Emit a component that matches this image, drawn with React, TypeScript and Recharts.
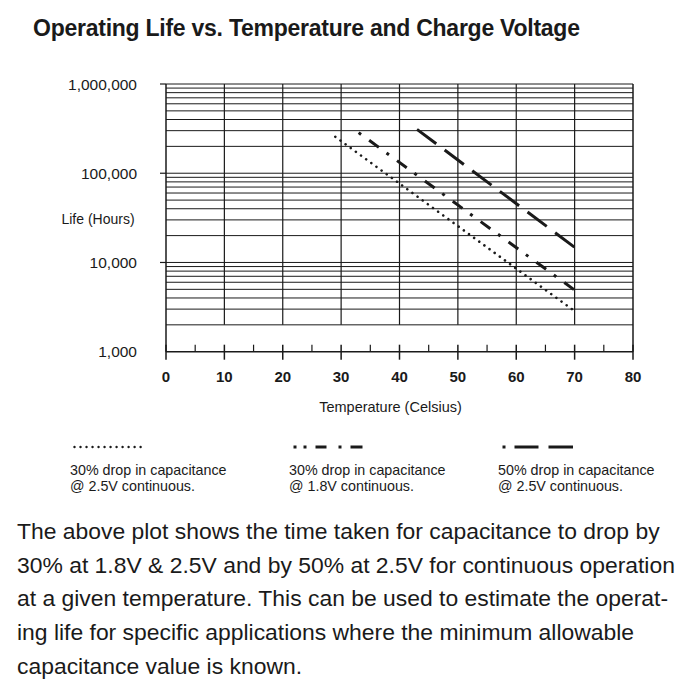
import React from "react";
import {
  LineChart,
  Line,
  XAxis,
  YAxis,
  ReferenceLine,
  Label,
} from "recharts";

// temperature (Celsius) vs operating life (hours)
const drop30at25V = [
  { temp: 29, life: 256000 },
  { temp: 70, life: 2850 },
];
const drop30at18V = [
  { temp: 33, life: 285000 },
  { temp: 70, life: 4900 },
];
const drop50at25V = [
  { temp: 43, life: 310000 },
  { temp: 70, life: 14800 },
];

const tempTicks = [0, 5, 10, 15, 20, 25, 30, 35, 40, 45, 50, 55, 60, 65, 70, 75, 80];
const tempGrid = [10, 20, 30, 40, 50, 60, 70];
const lifeTicks = [1000, 10000, 100000, 1000000];
const lifeGrid = [
  2000, 3000, 4000, 5000, 6000, 7000, 8000, 9000,
  10000, 20000, 30000, 40000, 50000, 60000, 70000, 80000, 90000,
  100000, 200000, 300000, 400000, 500000, 600000, 700000, 800000, 900000,
  1000000,
];

const legendItems = [
  { name: "30% drop in capacitance", sub: "@ 2.5V continuous.", left: 70, dash: "0.01 6", width: 2.4, cap: "round" },
  { name: "30% drop in capacitance", sub: "@ 1.8V continuous.", left: 289, dash: "3 7 3 9 11 12 3 9 12", width: 3, cap: "butt" },
  { name: "50% drop in capacitance", sub: "@ 2.5V continuous.", left: 498, dash: "3 9 24 10 25", width: 3, cap: "butt" },
];

const paragraph = [
  "The above plot shows the time taken for capacitance to drop by",
  "30% at 1.8V & 2.5V and by 50% at 2.5V for continuous operation",
  "at a given temperature. This can be used to estimate the operat-",
  "ing life for specific applications where the minimum allowable",
  "capacitance value is known.",
];

const FONT = "'Liberation Sans', Arial, Helvetica, sans-serif";
const INK = "#1a1a1a";

const TempTick = (props: any) => {
  const { x, y, payload } = props;
  const major = payload.value % 10 === 0;
  return (
    <g>
      <line x1={x} x2={x} y1={y - 7} y2={major ? y + 8 : y} stroke={INK} strokeWidth={major ? 1.5 : 1.2} />
      {major && (
        <text x={x} y={y + 30} textAnchor="middle" fontSize={15} fontWeight={700} fontFamily={FONT} fill={INK}>
          {payload.value}
        </text>
      )}
    </g>
  );
};

const LifeTick = (props: any) => {
  const { x, y, payload } = props;
  return (
    <g>
      {payload.value !== 1000 && <line x1={x - 6} x2={x} y1={y} y2={y} stroke={INK} strokeWidth={1.2} />}
      <text x={x - 29} y={y + 5.5} textAnchor="end" fontSize={15.5} fontFamily={FONT} fill={INK}>
        {payload.value.toLocaleString("en-US")}
      </text>
    </g>
  );
};

const App = () => {
  return (
    <div style={{ position: "absolute", left: 0, top: 0, width: 683, height: 699, background: "#fff", fontFamily: FONT, color: INK }}>
      <div style={{ position: "absolute", left: 33, top: 15, fontSize: 23, fontWeight: 700, whiteSpace: "nowrap", letterSpacing: -0.25 }}>
        Operating Life vs. Temperature and Charge Voltage
      </div>

      <div style={{ position: "absolute", left: 0, top: 0 }}>
        <LineChart width={683} height={440} margin={{ top: 84, right: 50, bottom: 28.3, left: 0 }}>
          <XAxis
            xAxisId={0}
            type="number"
            dataKey="temp"
            domain={[0, 80]}
            ticks={tempTicks}
            interval={0}
            height={60}
            tickSize={0}
            tickMargin={0}
            tickLine={false}
            tick={<TempTick />}
            axisLine={{ stroke: INK, strokeWidth: 1.5 }}
          >
            <Label
              content={(p: any) => (
                <text
                  x={p.viewBox.x + p.viewBox.width / 2 - 9}
                  y={p.viewBox.y + 60}
                  textAnchor="middle"
                  fontSize={14.5}
                  fontFamily={FONT}
                  fill={INK}
                >
                  Temperature (Celsius)
                </text>
              )}
            />
          </XAxis>
          <YAxis
            yAxisId={0}
            type="number"
            dataKey="life"
            scale="log"
            domain={[1000, 1000000]}
            allowDataOverflow
            ticks={lifeTicks}
            interval={0}
            width={166}
            tickSize={0}
            tickMargin={0}
            tickLine={false}
            tick={<LifeTick />}
            axisLine={{ stroke: INK, strokeWidth: 1.5 }}
          >
            <Label
              content={(p: any) => (
                <text x={98} y={p.viewBox.y + 140} textAnchor="middle" fontSize={14} fontFamily={FONT} fill={INK}>
                  Life (Hours)
                </text>
              )}
            />
          </YAxis>

          {lifeGrid.map((v) => (
            <ReferenceLine key={`h${v}`} y={v} stroke={INK} strokeWidth={1} />
          ))}
          {tempGrid.map((t) => (
            <ReferenceLine
              key={`v${t}`}
              segment={[
                { x: t, y: 2000 },
                { x: t, y: 1000000 },
              ]}
              stroke={INK}
              strokeWidth={1.2}
            />
          ))}
          <ReferenceLine x={80} stroke={INK} strokeWidth={1.5} />

          <Line
            data={drop30at25V}
            dataKey="life"
            type="linear"
            stroke={INK}
            strokeWidth={2.6}
            strokeLinecap="round"
            strokeDasharray="0.01 6.35"
            dot={false}
            isAnimationActive={false}
          />
          <Line
            data={drop30at18V}
            dataKey="life"
            type="linear"
            stroke={INK}
            strokeWidth={3}
            strokeDasharray="3 10 12 9.5"
            dot={false}
            isAnimationActive={false}
          />
          <Line
            data={drop50at25V}
            dataKey="life"
            type="linear"
            stroke={INK}
            strokeWidth={3}
            strokeDasharray="24 10.5"
            dot={false}
            isAnimationActive={false}
          />
        </LineChart>
      </div>

      {legendItems.map((item) => (
        <div key={item.left + item.sub} style={{ position: "absolute", left: item.left, top: 438, fontSize: 14.3, lineHeight: "16px" }}>
          <svg width={80} height={18} style={{ display: "block", marginLeft: 3 }}>
            <line
              x1={1.5}
              x2={72}
              y1={9}
              y2={9}
              stroke={INK}
              strokeWidth={item.width}
              strokeLinecap={item.cap as any}
              strokeDasharray={item.dash}
            />
          </svg>
          <div style={{ marginTop: 6, whiteSpace: "nowrap" }}>{item.name}</div>
          <div style={{ whiteSpace: "nowrap" }}>{item.sub}</div>
        </div>
      ))}

      <div style={{ position: "absolute", left: 17, top: 515, fontSize: 22.9, lineHeight: "33.7px", whiteSpace: "nowrap" }}>
        {paragraph.map((line) => (
          <div key={line}>{line}</div>
        ))}
      </div>
    </div>
  );
};

export default App;
